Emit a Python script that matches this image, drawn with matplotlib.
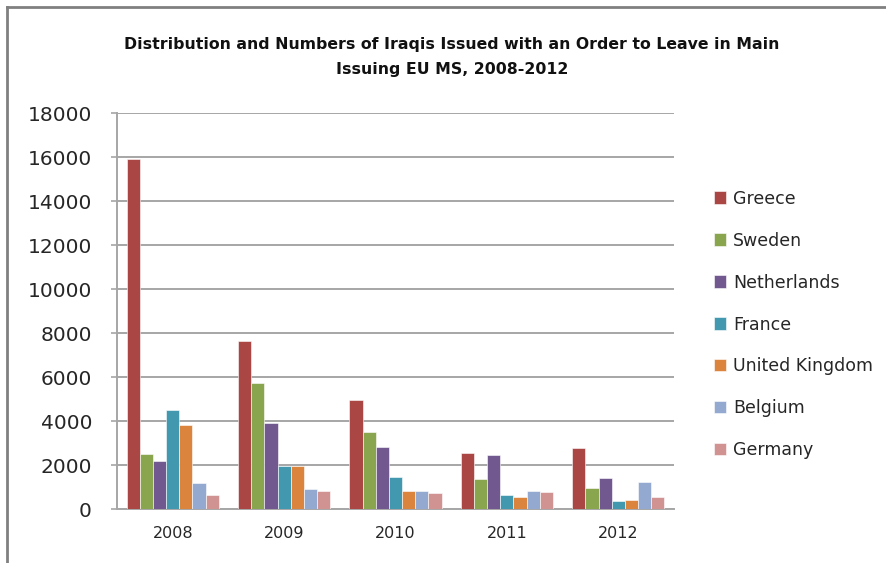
import numpy as np
import matplotlib.pyplot as plt
from matplotlib.lines import Line2D

# Data
years = ["2008", "2009", "2010", "2011", "2012"]
countries = ["Greece", "Sweden", "Netherlands", "France", "United Kingdom", "Belgium", "Germany"]
greece = [15940, 7670, 4970, 2540, 2780]
sweden = [2530, 5730, 3520, 1370, 960]
netherlands = [2180, 3920, 2830, 2480, 1410]
france = [4520, 1980, 1490, 670, 370]
united_kingdom = [3820, 1980, 840, 550, 430]
belgium = [1180, 910, 840, 840, 1250]
germany = [670, 830, 730, 780, 550]

series = [greece, sweden, netherlands, france, united_kingdom, belgium, germany]
colors = ["#AA4643", "#89A54E", "#71588F", "#4198AF", "#DB843D", "#93A9CF", "#D19392"]

W, H = 886, 563
fig = plt.figure(figsize=(W / 100, H / 100), dpi=100)

# Axes placement in pixels
left, right, top, bottom = 117, 674, 113.3, 509.3
ax = fig.add_axes([left / W, 1 - bottom / H, (right - left) / W, (bottom - top) / H])

x = np.arange(len(years))
bw = 0.118
for i, (vals, c, name) in enumerate(zip(series, colors, countries)):
    offs = (i - 3) * bw
    ax.bar(x + offs, vals, width=bw, color=c, label=name, zorder=3,
           edgecolor="white", linewidth=0.4)

ax.set_xlim(-0.5, len(years) - 0.5)
ax.set_ylim(0, 18000)
ax.set_yticks(np.arange(0, 18001, 2000))
ax.set_xticks(x)
ax.set_xticklabels(years)

ax.grid(axis="y", color="#A6A6A6", linewidth=1.4, zorder=0)
for s in ["top", "right"]:
    ax.spines[s].set_visible(False)
for s in ["left", "bottom"]:
    ax.spines[s].set_color("#A6A6A6")
    ax.spines[s].set_linewidth(1.4)

ax.tick_params(axis="y", length=4, width=1.2, color="#A6A6A6", pad=14,
               labelsize=14.5, labelcolor="#262626")
ax.tick_params(axis="x", length=0, pad=12, labelsize=11.5, labelcolor="#262626")

fig.text(452 / W, 1 - 57 / H,
         "Distribution and Numbers of Iraqis Issued with an Order to Leave in Main\nIssuing EU MS, 2008-2012",
         ha="center", va="center", fontsize=11.3, fontweight="bold",
         color="#111111", linespacing=1.85)

leg = fig.legend(loc="center left", bbox_to_anchor=(714 / W, 1 - 324.5 / H),
                 frameon=False, fontsize=12.5, handlelength=0.7, handleheight=0.7,
                 handletextpad=0.4, labelspacing=1.38, borderpad=0, borderaxespad=0)
for t in leg.get_texts():
    t.set_color("#262626")

# Chart border (top and left visible)
fig.add_artist(Line2D([7 / W, 1], [1 - 7 / H, 1 - 7 / H], color="#808080", linewidth=2,
                      transform=fig.transFigure))
fig.add_artist(Line2D([7 / W, 7 / W], [0, 1 - 7 / H], color="#808080", linewidth=2,
                      transform=fig.transFigure))

fig.savefig("out.png", dpi=100)
